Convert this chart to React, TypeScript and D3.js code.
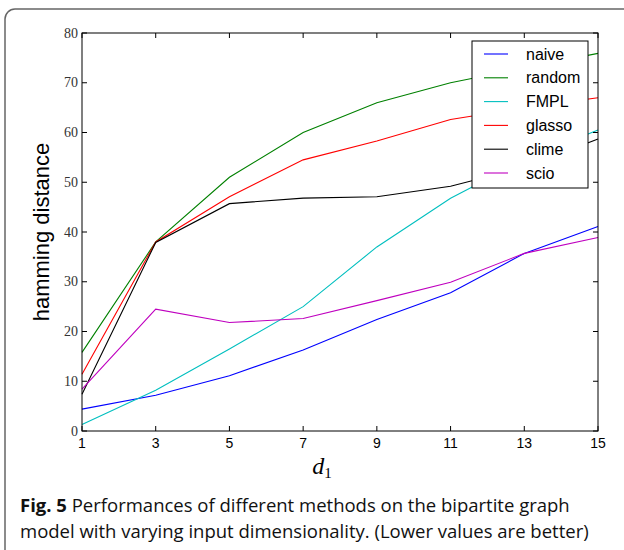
import React from "react";
import * as d3 from "d3";

const xValues = [1, 3, 5, 7, 9, 11, 13, 15];
const naive = [4.4, 7.2, 11.1, 16.3, 22.4, 27.8, 35.7, 41.1];
const random = [15.8, 38.0, 51.0, 60.0, 66.0, 70.0, 73.0, 75.9];
const fmpl = [1.3, 8.2, 16.5, 25.0, 37.0, 46.8, 54.5, 60.5];
const glasso = [11.4, 38.0, 47.1, 54.5, 58.3, 62.6, 65.0, 67.0];
const clime = [7.4, 37.9, 45.7, 46.8, 47.1, 49.2, 53.0, 58.7];
const scio = [8.4, 24.5, 21.8, 22.6, 26.2, 29.9, 35.7, 38.9];

const seriesNames = ["naive", "random", "FMPL", "glasso", "clime", "scio"];
const seriesColors = ["#0000ff", "#008000", "#00bfbf", "#ff0000", "#000000", "#bf00bf"];
const seriesValues = [naive, random, fmpl, glasso, clime, scio];
const yTicks = [0, 10, 20, 30, 40, 50, 60, 70, 80];

export default function App() {
  const W = 624, H = 550;
  const left = 82, right = 598, top = 33, bottom = 431;
  const x = d3.scaleLinear().domain([1, 15]).range([left, right]);
  const y = d3.scaleLinear().domain([0, 80]).range([bottom, top]);
  const line = d3.line<number>().x((_, i) => x(xValues[i])).y((d) => y(d));
  const tickLen = 5;
  const lserif = "'Liberation Serif', serif";
  const sans = "'Liberation Sans', Arial, sans-serif";

  return (
    <svg width={W} height={H} style={{ position: "absolute", left: 0, top: 0, background: "#fff" }}>
      <rect x={5} y={9} width={700} height={600} rx={10} ry={10} fill="none" stroke="#666" strokeWidth={1.5} />
      {seriesValues.map((vals, i) => (
        <path key={i} d={line(vals) || ""} fill="none" stroke={seriesColors[i]} strokeWidth={1.1} />
      ))}
      <rect x={left} y={top} width={right - left} height={bottom - top} fill="none" stroke="#000" strokeWidth={1} />
      {yTicks.map((t) => (
        <g key={"y" + t}>
          <line x1={left} x2={left + tickLen} y1={y(t)} y2={y(t)} stroke="#000" />
          <line x1={right} x2={right - tickLen} y1={y(t)} y2={y(t)} stroke="#000" />
          <text x={left - 4} y={y(t) + 4.5} textAnchor="end" fontFamily={lserif} fontSize={14} fill="#333">{t}</text>
        </g>
      ))}
      {xValues.map((t) => (
        <g key={"x" + t}>
          <line x1={x(t)} x2={x(t)} y1={bottom} y2={bottom - tickLen} stroke="#000" />
          <line x1={x(t)} x2={x(t)} y1={top} y2={top + tickLen} stroke="#000" />
          <text x={x(t)} y={bottom + 17} textAnchor="middle" fontFamily={sans} fontSize={14} fill="#000">{t}</text>
        </g>
      ))}
      <text transform={`translate(49,${(top + bottom) / 2}) rotate(-90)`} textAnchor="middle" fontFamily={sans} fontSize={22} fill="#000">hamming distance</text>
      <text x={322} y={474} textAnchor="middle" fontFamily={lserif} fontStyle="italic" fontSize={24} fill="#000">
        d<tspan fontSize={15} dy={4} fontStyle="normal">1</tspan>
      </text>
      <g>
        <rect x={472} y={41} width={116} height={147} fill="#fff" stroke="#000" strokeWidth={1} />
        {seriesNames.map((n, i) => {
          const yy = 54 + i * 23.8;
          return (
            <g key={n}>
              <line x1={484} x2={508} y1={yy} y2={yy} stroke={seriesColors[i]} strokeWidth={1.1} />
              <text x={526} y={yy + 5.5} fontFamily={sans} fontSize={16} fill="#000">{n}</text>
            </g>
          );
        })}
      </g>
      <text x={20} y={512} fontFamily="'Open Sans', sans-serif" fontSize={18.5} fill="#111">
        <tspan fontWeight="bold">Fig. 5</tspan> Performances of different methods on the bipartite graph
      </text>
      <text x={20} y={538} fontFamily="'Open Sans', sans-serif" fontSize={18.5} fill="#111">
        model with varying input dimensionality. (Lower values are better)
      </text>
    </svg>
  );
}
